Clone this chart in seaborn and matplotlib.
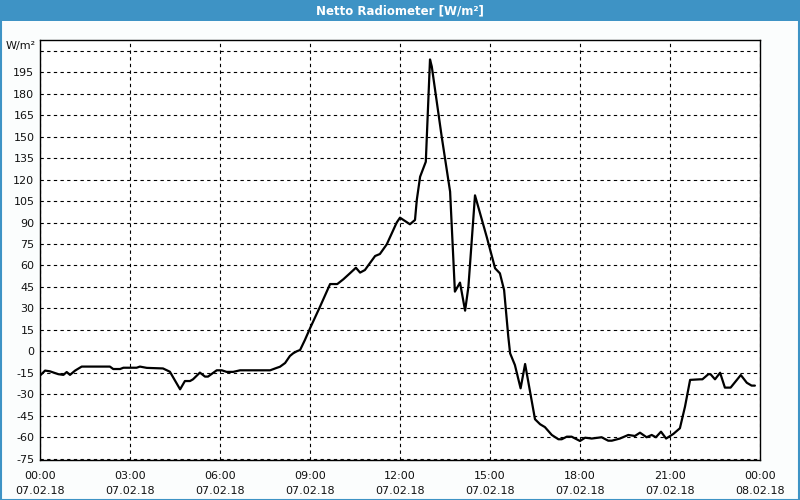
import matplotlib
matplotlib.use("Agg")
import matplotlib.pyplot as plt
import matplotlib.patches as mpatches
import matplotlib.transforms as mtransforms
import seaborn as sns
import pandas as pd
import numpy as np

# hours since 07.02.18 00:00
hours = [0.0, 0.17, 0.33, 0.61, 0.78, 0.89, 1.0, 1.17, 1.39, 2.33, 2.44, 2.67, 2.78, 3.22,
         3.33, 3.56, 4.1, 4.33, 4.67, 4.83, 5.0, 5.1, 5.33, 5.5, 5.6, 5.89, 6.06, 6.22, 6.44,
         6.67, 7.67, 7.89, 8.0, 8.17, 8.33, 8.44, 8.56, 8.67, 8.83, 9.0, 9.33, 9.67, 9.91,
         10.11, 10.33, 10.53, 10.67, 10.83, 11.17, 11.33, 11.56, 11.89, 12.0, 12.33, 12.5,
         12.56, 12.67, 12.86, 13.0, 13.06, 13.39, 13.67, 13.83, 14.0, 14.17, 14.28, 14.5,
         14.89, 15.17, 15.33, 15.47, 15.61, 15.67, 15.83, 16.02, 16.17, 16.5, 16.67, 16.83,
         17.06, 17.28, 17.39, 17.56, 17.72, 18.0, 18.17, 18.39, 18.72, 18.94, 19.06, 19.33,
         19.61, 19.83, 20.0, 20.22, 20.39, 20.53, 20.7, 20.87, 21.11, 21.33, 21.5, 21.67,
         22.0, 22.08, 22.28, 22.35, 22.5, 22.67, 22.83, 23.02, 23.36, 23.56, 23.72, 23.83]
values = [-17.0, -13.5, -14.0, -16.0, -16.5, -14.5, -16.5, -13.5, -10.7, -10.7, -12.4, -12.4,
          -11.5, -11.5, -10.7, -11.6, -12.0, -14.3, -26.6, -20.8, -20.8, -19.6, -14.9, -17.7,
          -17.7, -13.3, -13.3, -14.4, -14.4, -13.3, -13.3, -11.6, -10.8, -8.2, -3.3, -1.4,
          0.0, 0.9, 7.9, 16.0, 31.0, 47.0, 47.0, 50.3, 54.5, 58.4, 55.0, 56.8, 66.6, 68.0,
          74.8, 90.0, 93.4, 88.8, 91.8, 105.8, 122.0, 132.5, 204.0, 199.0, 150.0, 111.6,
          41.7, 48.0, 28.4, 45.0, 109.0, 80.0, 58.0, 54.5, 42.8, 10.2, -1.4, -9.6, -25.9,
          -8.9, -47.5, -51.0, -53.0, -58.5, -61.5, -61.5, -59.7, -59.7, -62.7, -60.4, -61.0,
          -60.1, -62.5, -62.5, -61.0, -58.5, -59.2, -56.9, -60.1, -58.5, -60.1, -56.2, -61.0,
          -57.8, -53.8, -38.7, -20.0, -19.6, -19.6, -16.0, -16.0, -19.6, -15.0, -25.4, -25.4,
          -16.6, -22.0, -24.0, -24.0]

x_tick_hours = [0, 3, 6, 9, 12, 15, 18, 21, 24]
x_tick_labels = ["00:00\n07.02.18", "03:00\n07.02.18", "06:00\n07.02.18", "09:00\n07.02.18",
                 "12:00\n07.02.18", "15:00\n07.02.18", "18:00\n07.02.18", "21:00\n07.02.18",
                 "00:00\n08.02.18"]
y_ticks = [-75, -60, -45, -30, -15, 0, 15, 30, 45, 60, 75, 90, 105, 120, 135, 150, 165, 180, 195, 210]
title = "Netto Radiometer [W/m²]"
unit = "W/m²"

df = pd.DataFrame({"hour": hours, "value": values})

sns.set_style("white")
plt.rcParams["font.family"] = ["DejaVu Sans"]

fig = plt.figure(figsize=(8, 5), dpi=100, facecolor="#fbfdfd")
# title bar
fig.patches.append(mpatches.Rectangle((0, 0.958), 1, 0.042, transform=fig.transFigure,
                                      facecolor="#3e93c5", edgecolor="none", zorder=0))
fig.patches.append(mpatches.Rectangle((0.001, 0.001), 0.998, 0.998, transform=fig.transFigure,
                                      facecolor="none", edgecolor="#3e93c5", linewidth=1.5, zorder=5))
fig.text(0.5, 0.979, title, ha="center", va="center", color="white", fontsize=8.5, fontweight="bold")

ax = fig.add_axes([0.05, 0.08, 0.90, 0.84])
ax.set_facecolor("white")
sns.lineplot(data=df, x="hour", y="value", ax=ax, color="black", linewidth=1.6)

ax.set_xlim(0, 24)
ax.set_ylim(-76, 217.6)
ax.set_xticks(x_tick_hours)
ax.set_xticklabels(x_tick_labels, fontsize=8, color="#111111", linespacing=1.55)
ax.set_xticks(np.arange(0, 25, 1), minor=True)
ax.set_yticks(y_ticks)
ax.set_yticklabels([str(v) for v in y_ticks[:-1]] + [""], fontsize=8, color="#111111")
ax.tick_params(axis="y", length=0, pad=4)
ax.tick_params(axis="x", which="major", length=4, width=0.8, pad=4, direction="out")
ax.tick_params(axis="x", which="minor", length=3, width=0.8, direction="out")
ax.set_xlabel("")
ax.set_ylabel("")
ax.grid(True, which="major", color="black", linestyle=(0, (3, 3)), linewidth=0.8)
for s in ax.spines.values():
    s.set_color("black")
    s.set_linewidth(1.0)

trans = mtransforms.blended_transform_factory(ax.transAxes, ax.transData)
ax.text(-0.006, 213.5, unit, transform=trans, ha="right", va="center", fontsize=8, color="#111111")

fig.savefig("out.png", dpi=100, facecolor=fig.get_facecolor())
